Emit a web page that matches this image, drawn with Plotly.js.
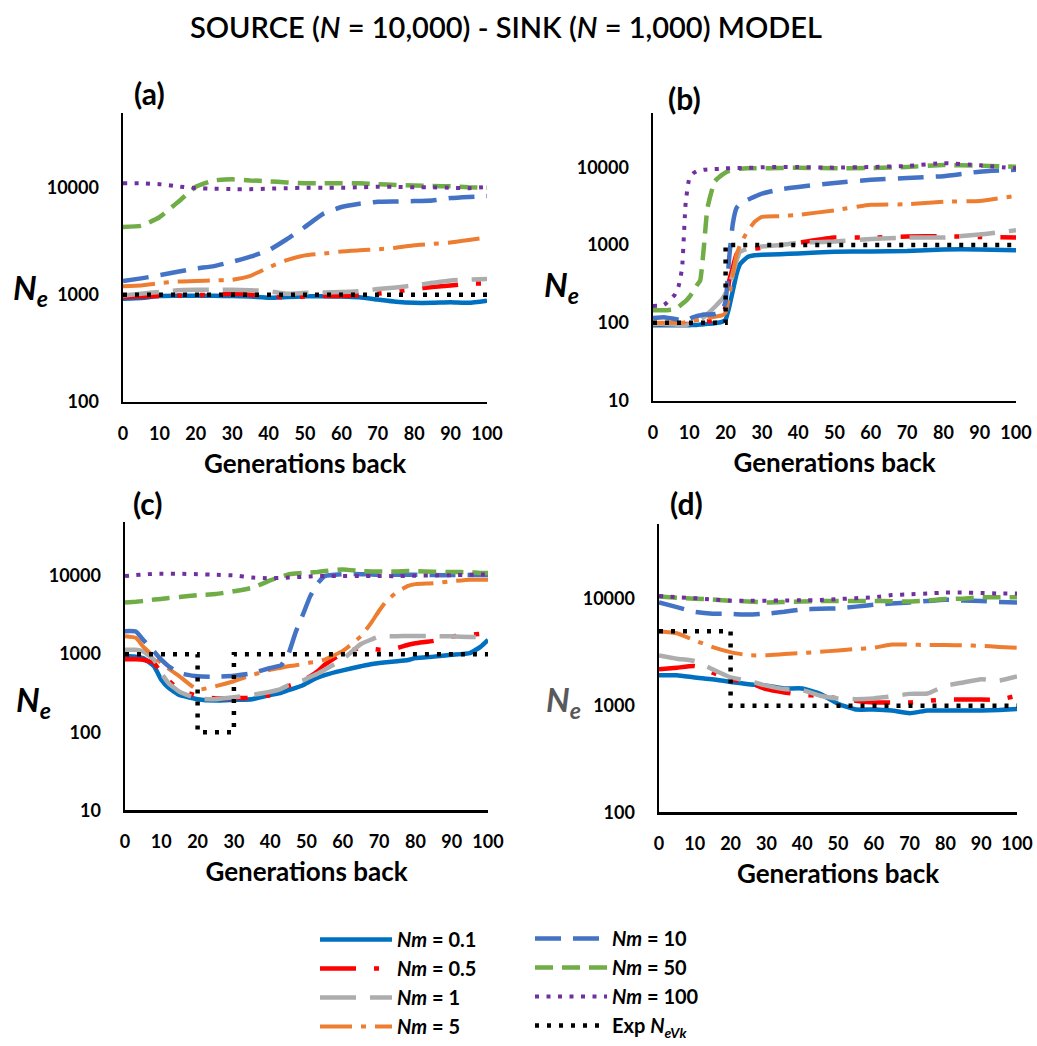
<!DOCTYPE html>
<html><head><meta charset="utf-8">
<script src="https://cdn.plot.ly/plotly-3.0.1.min.js"></script>
<style>html,body{margin:0;padding:0;background:#fff}#chart{width:1037px;height:1046px}</style>
</head><body><div id="chart"></div>
<script>
// ---------- DATA ----------
const seriesNames = ['<i>Nm</i> = 0.1','<i>Nm</i> = 0.5','<i>Nm</i> = 1','<i>Nm</i> = 5','<i>Nm</i> = 10','<i>Nm</i> = 50','<i>Nm</i> = 100'];
const expName = 'Exp <i>N</i><sub><i>eVk</i></sub>';
const xTickVals = [0,10,20,30,40,50,60,70,80,90,100];

// generations back (panels a and d)
const gens5 = [0,5,10,15,20,25,30,35,40,45,50,55,60,65,70,75,80,85,90,95,100];
// panel b
const gensB = [0,3,6,7,8,9,10,11,12,13,14,15,17,19,20,21,22,23,24,26,28,30,35,40,50,60,70,80,90,100];
// panel c
const gensC = [0,3,5,8,10,12,15,20,25,30,35,40,43,45,47,49,51,53,55,60,65,68,70,72,75,78,80,85,90,95,98,100];

// (a)
const a_nm01 = [917,930,970,975,975,975,970,960,935,950,965,965,960,945,900,860,840,840,850,840,880];
const a_nm05 = [950,960,970,980,990,1000,1020,1000,970,940,960,970,970,990,1020,1070,1130,1180,1220,1270,1270];
const a_nm1  = [980,1020,1060,1100,1110,1110,1110,1100,1080,1020,1040,1050,1060,1080,1130,1170,1220,1290,1360,1380,1400];
const a_nm5  = [1200,1220,1280,1330,1340,1360,1380,1500,1800,2100,2330,2420,2540,2600,2660,2750,2900,2980,3070,3250,3420];
const a_nm10 = [1340,1420,1520,1640,1760,1850,2030,2270,2600,3300,4300,5700,6600,7100,7400,7450,7500,7600,8000,8200,8350];
const a_nm50 = [4300,4400,5300,7300,10200,11700,12000,11700,11500,11200,11000,11000,11000,11000,10800,10600,10500,10400,10300,10100,10000];
const a_nm100= [11000,11000,10800,10300,9900,9800,9700,9700,9800,9900,10000,10000,10000,10100,10200,10200,10100,10100,10000,9900,10200];
const a_expX = [0,100];
const a_expY = [1000,1000];

// (b)
const b_nm01 = [93,93,93,93,93,93,93,94,94,95,96,97,99,103,110,160,260,420,570,700,740,750,765,780,820,830,840,880,880,860];
const b_nm05 = [97,97,97,97,97,97,97,98,99,100,102,104,110,125,160,350,520,760,840,880,900,920,1000,1070,1250,1250,1290,1300,1270,1250];
const b_nm1  = [97,97,95,94,93,94,97,100,105,110,118,130,160,200,240,290,430,630,820,900,930,960,1000,1070,1110,1200,1250,1250,1370,1550];
const b_nm5  = [100,100,100,100,100,102,104,106,108,110,112,115,120,125,135,220,420,750,1000,1500,2000,2300,2350,2450,2800,3300,3350,3600,3700,4300];
const b_nm10 = [115,118,112,110,108,110,112,118,122,125,128,128,130,140,190,700,1900,3000,3400,3800,4200,4600,5200,5600,6300,6900,7300,7700,8800,9300];
const b_nm50 = [145,145,150,160,175,190,215,250,300,350,930,3000,6600,8000,8600,9000,9300,9500,9600,9700,9700,9700,9800,9900,9700,9800,10100,10700,10500,10200];
const b_nm100= [165,170,230,290,500,3500,7200,8300,8900,9100,9300,9400,9500,9600,9700,9700,9800,9800,9800,9900,9900,10000,10100,10100,9900,10100,10400,11300,10600,9700];
const b_expX = [0,20,20,100];
const b_expY = [100,100,1000,1000];

// (c)
const c_nm01 = [950,930,890,700,470,370,300,265,255,260,265,300,320,345,370,400,450,500,540,620,700,750,770,790,810,840,890,930,980,1030,1250,1530];
const c_nm05 = [860,860,850,770,570,460,350,290,270,275,275,300,340,390,420,460,520,600,730,1030,1200,1170,1140,1140,1200,1320,1380,1480,1680,1770,1820,1860];
const c_nm1  = [1140,1140,1080,850,570,425,330,270,265,280,300,330,360,400,430,460,510,560,630,860,1350,1550,1680,1700,1700,1710,1710,1700,1690,1660,1650,1630];
const c_nm5  = [1700,1620,1250,930,770,650,520,350,390,450,540,630,670,700,720,750,780,800,850,1100,1700,2600,3600,4800,6300,7500,7900,8100,8600,9000,9000,9000];
const c_nm10 = [1970,1950,1530,1080,850,700,570,520,515,530,570,665,720,1000,1900,3200,5500,8000,10000,10600,10600,10500,10400,10400,10400,10400,10400,10300,10300,10300,10300,10300];
const c_nm50 = [4600,4700,4800,5000,5100,5250,5400,5700,5900,6400,7100,8800,9800,10500,10800,11000,11100,11300,11600,12200,11600,11500,11500,11500,11500,11600,11600,11400,11300,11200,11000,11000];
const c_nm100= [10000,10300,10500,10700,10700,10700,10700,10600,10400,10200,9600,9400,9500,9600,9700,9800,9900,10000,10000,10000,10000,10000,10000,10000,10000,10100,10100,10200,10300,10400,10500,10500];
const c_expX = [0,20,20,30,30,100];
const c_expY = [1000,1000,100,100,1000,1000];

// (d)
const d_nm01 = [1930,1930,1840,1770,1670,1590,1540,1450,1450,1290,1040,920,920,900,850,900,900,900,900,910,930];
const d_nm05 = [2190,2270,2350,2040,1770,1650,1430,1330,1260,1240,1170,1110,1070,1070,1070,1110,1140,1140,1140,1140,1240];
const d_nm1  = [2960,2760,2620,2190,1840,1710,1540,1430,1400,1240,1170,1150,1170,1220,1290,1300,1540,1650,1770,1720,1880];
const d_nm5  = [5000,4780,4090,3550,3180,2970,2970,3050,3120,3200,3300,3400,3500,3740,3740,3700,3700,3680,3640,3560,3500];
const d_nm10 = [9300,8400,7600,7300,7250,7150,7300,7600,8000,8100,8200,8500,8850,9100,9300,9600,9860,9700,9600,9400,9300];
const d_nm50 = [10600,10300,10100,9900,9650,9500,9300,9400,9500,9600,9600,9600,9600,9550,9500,9700,10000,10100,10400,10400,10400];
const d_nm100= [10700,10400,10200,9900,9650,9650,9650,9700,9750,9800,10000,10200,10400,10900,11100,11300,11500,11500,11400,11300,11300];
const d_expX = [0,20,20,100];
const d_expY = [5000,5000,1000,1000];

// ---------- STYLE ----------
const FONT = 'Lato, "Open Sans", sans-serif';
const W = 1037, H = 1046;
const styles = [
  {color:'#0070C0', dash:'solid', width:4.5},
  {color:'#FF0000', dash:'36px,18px,5px,18px,5px,18px', width:4.5},
  {color:'#ADADAD', dash:'36px,14px', width:4.5},
  {color:'#ED7D31', dash:'32px,9px,5px,9px', width:4},
  {color:'#4472C4', dash:'26px,12px', width:4.5},
  {color:'#70AD47', dash:'18px,9px', width:4.5},
  {color:'#7030A0', dash:'4px,7.5px', width:4},
];
const expStyle = {color:'#000000', dash:'4px,8px', width:4.5};

const panels = [
  {id:'', x:gens5, ys:[a_nm01,a_nm05,a_nm1,a_nm5,a_nm10,a_nm50,a_nm100], ex:a_expX, ey:a_expY,
   px:[123,487], py:[113,402], yr:[2,4.7], yt:[100,1000,10000], label:'(a)', lx:149, ly:93, nx:30, ny:290, ncol:'#000'},
  {id:'2', x:gensB, ys:[b_nm01,b_nm05,b_nm1,b_nm5,b_nm10,b_nm50,b_nm100], ex:b_expX, ey:b_expY,
   px:[653,1016], py:[113,401], yr:[1,4.7], yt:[10,100,1000,10000], label:'(b)', lx:684, ly:98, nx:561, ny:287, ncol:'#000'},
  {id:'3', x:gensC, ys:[c_nm01,c_nm05,c_nm1,c_nm5,c_nm10,c_nm50,c_nm100], ex:c_expX, ey:c_expY,
   px:[125,488], py:[522,811], yr:[1,4.7], yt:[10,100,1000,10000], label:'(c)', lx:148, ly:503, nx:33, ny:702, ncol:'#000'},
  {id:'4', x:gens5, ys:[d_nm01,d_nm05,d_nm1,d_nm5,d_nm10,d_nm50,d_nm100], ex:d_expX, ey:d_expY,
   px:[659,1017], py:[525,813], yr:[2,4.7], yt:[100,1000,10000], label:'(d)', lx:686, ly:503, nx:563, ny:702, ncol:'#595959'},
];

const traces = [];
const legendFont = {family: FONT, size: 20, weight: 700, color: '#000'};
const layout = {
  width: W, height: H,
  margin: {l:0, r:0, t:0, b:0},
  paper_bgcolor: '#fff', plot_bgcolor: 'rgba(0,0,0,0)',
  font: {family: FONT, color: '#000'},
  title: {text: 'SOURCE (<i>N</i> = 10,000) - SINK (<i>N</i> = 1,000) MODEL',
          x: 506/W, xanchor: 'center', y: 1 - 28/H, yanchor: 'middle', yref: 'container', xref: 'paper',
          font: {family: FONT, size: 29, color: '#000', weight: 600}},
  showlegend: true,
  legend: {x: 315/W, y: 1 - 921/H, xanchor: 'left', yanchor: 'top', bgcolor: 'rgba(0,0,0,0)',
           font: legendFont, itemwidth: 72, traceorder: 'normal'},
  legend2: {x: 530/W, y: 1 - 919/H, xanchor: 'left', yanchor: 'top', bgcolor: 'rgba(0,0,0,0)',
           font: legendFont, itemwidth: 72, traceorder: 'normal'},
  annotations: [],
};

panels.forEach((p, pi) => {
  const xa = 'x' + p.id, ya = 'y' + p.id;
  p.ys.forEach((ys, si) => {
    traces.push({
      type: 'scatter', mode: 'lines', x: p.x, y: ys, xaxis: xa, yaxis: ya,
      name: seriesNames[si], showlegend: pi === 0, legend: si < 4 ? 'legend' : 'legend2',
      line: {color: styles[si].color, dash: styles[si].dash, width: styles[si].width, shape: 'spline', smoothing: 0.4},
      hoverinfo: 'skip'
    });
  });
  traces.push({
    type: 'scatter', mode: 'lines', x: p.ex, y: p.ey, xaxis: xa, yaxis: ya,
    name: expName, showlegend: pi === 0, legend: 'legend2',
    line: {color: expStyle.color, dash: expStyle.dash, width: expStyle.width},
    hoverinfo: 'skip'
  });
  layout['xaxis' + p.id] = {
    domain: [p.px[0]/W, p.px[1]/W], anchor: ya, range: [0, 100],
    tickvals: xTickVals, ticks: '', showgrid: false, zeroline: false,
    showline: true, linecolor: '#000', linewidth: 2.5,
    tickfont: {family: FONT, size: 18, weight: 700, color: '#000'}, ticklabelstandoff: 14,
    title: {text: 'Generations back', font: {family: FONT, size: 26, weight: 700, color: '#000'}, standoff: 12},
    fixedrange: true
  };
  layout['yaxis' + p.id] = {
    domain: [1 - p.py[1]/H, 1 - p.py[0]/H], anchor: xa, type: 'log', range: p.yr,
    tickvals: p.yt, ticktext: p.yt.map(String), ticks: '', showgrid: false, zeroline: false,
    showline: true, linecolor: '#000', linewidth: 2.5,
    tickfont: {family: FONT, size: 18, weight: 700, color: '#000'}, ticklabelstandoff: 18,
    fixedrange: true
  };
  layout.annotations.push({
    text: '<b>' + p.label + '</b>', xref: 'paper', yref: 'paper', x: p.lx/W, y: 1 - p.ly/H,
    xanchor: 'center', yanchor: 'middle', showarrow: false,
    font: {family: FONT, size: 30, color: '#000'}
  });
  layout.annotations.push({
    text: '<b><i>N</i></b><sub><b><i>e</i></b></sub>', xref: 'paper', yref: 'paper', x: p.nx/W, y: 1 - p.ny/H,
    xanchor: 'center', yanchor: 'middle', showarrow: false,
    font: {family: FONT, size: 33, color: p.ncol}
  });
});

Plotly.newPlot('chart', traces, layout, {staticPlot: true, displayModeBar: false});
</script>
</body></html>
